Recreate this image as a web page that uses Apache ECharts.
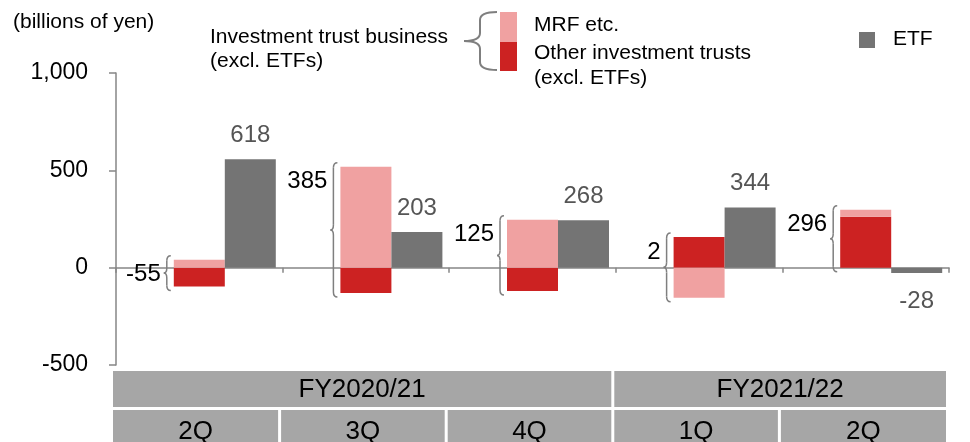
<!DOCTYPE html>
<html>
<head>
<meta charset="utf-8">
<script src="https://cdn.jsdelivr.net/npm/echarts@6/dist/echarts.min.js"></script>
<style>
html,body{margin:0;padding:0;background:#fff;}
#chart{width:970px;height:442px;}
</style>
</head>
<body>
<div id="chart"></div>
<script>
// ---- data ----
const quarters = ['2Q', '3Q', '4Q', '1Q', '2Q'];
const fiscalYears = ['FY2020/21', 'FY2020/21', 'FY2020/21', 'FY2021/22', 'FY2021/22'];
const mrfValues = [41, 518, 246, -154, 36];
const otherValues = [-97, -130, -120, 157, 261];
const etfValues = [557, 183, 243, 309, -27];
const etfLabels = ['618', '203', '268', '344', '-28'];
const trustNetLabels = ['-55', '385', '125', '2', '296'];
const yTicks = [-500, 0, 500, 1000];

// ---- styles ----
const FONT = '"Liberation Sans", Arial, sans-serif';
const PINK = '#F0A1A1';
const RED = '#CC2222';
const ETF_GRAY = '#747474';
const AXIS_GRAY = '#868686';
const BRACE_GRAY = '#7F7F7F';
const CELL_GRAY = '#A6A6A6';
const BAR_W = 51;

const catKeys = quarters.map((q, i) => fiscalYears[i] + ' ' + q);
const braceData = quarters.map((q, i) => {
  const vals = [mrfValues[i], otherValues[i]];
  const pos = vals.filter(v => v > 0).reduce((a, b) => a + b, 0);
  const neg = vals.filter(v => v < 0).reduce((a, b) => a + b, 0);
  return [i, pos, neg];
});

function braceParts(xTip, xStem, xEnd, yt, yb, r, style) {
  const ym = (yt + yb) / 2;
  const s = Object.assign({ stroke: BRACE_GRAY, lineWidth: 1.5, fill: null }, style || {});
  return [
    { type: 'bezierCurve', shape: { x1: xEnd, y1: yt, cpx1: xStem, cpy1: yt, x2: xStem, y2: yt + r }, style: s },
    { type: 'line', shape: { x1: xStem, y1: yt + r, x2: xStem, y2: ym - r }, style: s },
    { type: 'bezierCurve', shape: { x1: xStem, y1: ym - r, cpx1: xStem, cpy1: ym, x2: xTip, y2: ym }, style: s },
    { type: 'bezierCurve', shape: { x1: xTip, y1: ym, cpx1: xStem, cpy1: ym, x2: xStem, y2: ym + r }, style: s },
    { type: 'line', shape: { x1: xStem, y1: ym + r, x2: xStem, y2: yb - r }, style: s },
    { type: 'bezierCurve', shape: { x1: xStem, y1: yb - r, cpx1: xStem, cpy1: yb, x2: xEnd, y2: yb }, style: s }
  ];
}

const chart = echarts.init(document.getElementById('chart'), null, { renderer: 'canvas' });

const option = {
  animation: false,
  backgroundColor: '#fff',
  textStyle: { fontFamily: FONT },
  grid: { left: 116, right: 21, top: 73, bottom: 77, containLabel: false },
  xAxis: {
    type: 'category',
    data: catKeys,
    axisLine: { onZero: true, lineStyle: { color: AXIS_GRAY, width: 1.5 } },
    axisTick: { show: true, length: 5, lineStyle: { color: AXIS_GRAY, width: 1.5 } },
    axisLabel: { show: false },
    splitLine: { show: false }
  },
  yAxis: {
    type: 'value',
    min: yTicks[0],
    max: yTicks[yTicks.length - 1],
    interval: 500,
    axisLine: { show: true, lineStyle: { color: AXIS_GRAY, width: 1.5 } },
    axisTick: { show: true, length: 7, lineStyle: { color: AXIS_GRAY, width: 1.5 } },
    axisLabel: {
      margin: 28, color: '#000', fontSize: 23, fontFamily: FONT,
      formatter: v => v.toLocaleString('en-US')
    },
    splitLine: { show: false }
  },
  series: [
    { name: 'spacer', type: 'bar', barWidth: BAR_W, barGap: '0%', data: quarters.map(() => '-'), silent: true },
    { name: 'Other investment trusts', type: 'bar', stack: 'trust', barWidth: BAR_W, barGap: '0%',
      itemStyle: { color: RED }, data: otherValues },
    { name: 'MRF etc.', type: 'bar', stack: 'trust', barWidth: BAR_W, barGap: '0%',
      itemStyle: { color: PINK }, data: mrfValues },
    { name: 'ETF', type: 'bar', barWidth: BAR_W, barGap: '0%',
      itemStyle: { color: ETF_GRAY },
      data: etfValues.map((v, i) => ({
        value: v,
        label: {
          show: true,
          position: v >= 0 ? 'top' : 'bottom',
          distance: v >= 0 ? 12 : 16,
          formatter: etfLabels[i],
          color: '#555555', fontSize: 24, fontFamily: FONT
        }
      }))
    },
    { name: 'braces', type: 'custom', data: braceData, encode: { x: 0, y: [1, 2] }, z: 5,
      renderItem: function (params, api) {
        const i = api.value(0);
        const top = api.coord([i, api.value(1)]);
        const bot = api.coord([i, api.value(2)]);
        const cx = top[0];
        const barLeft = cx - BAR_W / 2;
        const xTip = barLeft - 10, xStem = barLeft - 7, xEnd = barLeft - 3;
        const yt = top[1] - 4, yb = bot[1] + 4;
        const children = braceParts(xTip, xStem, xEnd, yt, yb, Math.min(5, (yb - yt) / 6));
        children.push({
          type: 'text',
          style: {
            text: trustNetLabels[params.dataIndex],
            x: xTip - 3, y: top[1] + 15,
            align: 'right', verticalAlign: 'middle',
            fill: '#000', fontSize: 24, fontFamily: FONT
          }
        });
        return { type: 'group', children: children };
      }
    }
  ]
};

chart.setOption(option);

// ---- table of categories & legend (graphic) ----
const c0 = chart.convertToPixel({ xAxisIndex: 0 }, 0);
const c1 = chart.convertToPixel({ xAxisIndex: 0 }, 1);
const band = c1 - c0;
const gridBottom = chart.convertToPixel({ yAxisIndex: 0 }, yTicks[0]);
const row1Top = gridBottom + 6, rowH = 36, row2Top = row1Top + rowH + 3;
const graphics = [];
const cellText = { fill: '#000', fontSize: 26, fontFamily: FONT, align: 'center', verticalAlign: 'middle' };
const bnd = k => c0 + band * k - band / 2;
const cellLeft = k => k === 0 ? bnd(0) - 3 : bnd(k) - 1.5;
const cellRight = k => k === quarters.length ? bnd(k) - 3 : bnd(k) - 4.5;

quarters.forEach((q, i) => {
  const left = cellLeft(i), right = cellRight(i + 1);
  graphics.push({ type: 'rect', shape: { x: left, y: row2Top, width: right - left, height: rowH }, style: { fill: CELL_GRAY } });
  graphics.push({ type: 'text', style: Object.assign({ text: q, x: (left + right) / 2, y: row2Top + rowH / 2 + 4 }, cellText) });
});
// fiscal year groups
let start = 0;
for (let i = 1; i <= fiscalYears.length; i++) {
  if (i === fiscalYears.length || fiscalYears[i] !== fiscalYears[start]) {
    const left = cellLeft(start), right = cellRight(i);
    graphics.push({ type: 'rect', shape: { x: left, y: row1Top, width: right - left, height: rowH }, style: { fill: CELL_GRAY } });
    graphics.push({ type: 'text', style: Object.assign({ text: fiscalYears[start], x: (left + right) / 2, y: row1Top + rowH / 2 + 1 }, cellText) });
    start = i;
  }
}

// unit label
const legendText = { fill: '#000', fontSize: 21, fontFamily: FONT, align: 'left', verticalAlign: 'middle' };
graphics.push({ type: 'text', style: Object.assign({ text: '(billions of yen)', x: 13, y: 22 }, legendText) });
// legend
graphics.push({ type: 'text', style: Object.assign({ text: 'Investment trust business', x: 210, y: 37 }, legendText) });
graphics.push({ type: 'text', style: Object.assign({ text: '(excl. ETFs)', x: 210, y: 61 }, legendText) });
braceParts(464, 480, 497, 12, 70, 8, { lineWidth: 2 }).forEach(p => graphics.push(p));
graphics.push({ type: 'rect', shape: { x: 500, y: 12, width: 17, height: 30 }, style: { fill: PINK } });
graphics.push({ type: 'rect', shape: { x: 500, y: 42, width: 17, height: 29 }, style: { fill: RED } });
graphics.push({ type: 'text', style: Object.assign({ text: 'MRF etc.', x: 534, y: 25 }, legendText) });
graphics.push({ type: 'text', style: Object.assign({ text: 'Other investment trusts', x: 534, y: 53 }, legendText) });
graphics.push({ type: 'text', style: Object.assign({ text: '(excl. ETFs)', x: 534, y: 78 }, legendText) });
graphics.push({ type: 'rect', shape: { x: 859, y: 32, width: 16, height: 16 }, style: { fill: ETF_GRAY } });
graphics.push({ type: 'text', style: Object.assign({ text: 'ETF', x: 893, y: 39 }, legendText) });

chart.setOption({ graphic: graphics });
</script>
</body>
</html>
